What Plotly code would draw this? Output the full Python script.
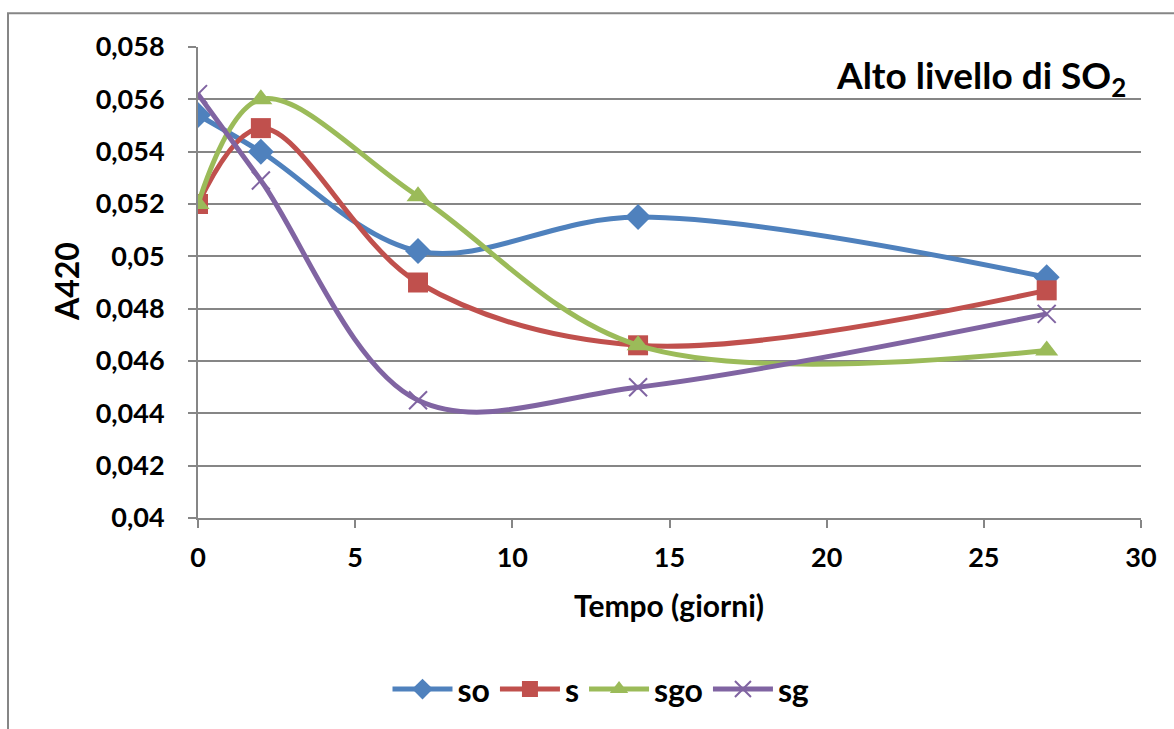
import plotly.graph_objects as go

# Data
giorni = [0, 2, 7, 14, 27]
so = [0.0554, 0.0540, 0.0502, 0.0515, 0.0492]
s = [0.0520, 0.0549, 0.0490, 0.0466, 0.0487]
sgo = [0.0520, 0.0560, 0.0523, 0.0466, 0.0464]
sg = [0.0562, 0.0529, 0.0445, 0.0450, 0.0478]

series_names = ["so", "s", "sgo", "sg"]
y_tickvals = [0.040, 0.042, 0.044, 0.046, 0.048, 0.050, 0.052, 0.054, 0.056, 0.058]
y_ticktext = ["0,04", "0,042", "0,044", "0,046", "0,048", "0,05", "0,052", "0,054", "0,056", "0,058"]
x_tickvals = [0, 5, 10, 15, 20, 25, 30]

colors = ["#4F81BD", "#C0504D", "#9BBB59", "#8064A2"]
symbols = ["diamond", "square", "triangle-up", "x-thin"]
sizes = [20, 20, 20, 18]

FONT = "Lato"
W, H = 1174, 729
L, R, T, B = 198, 33, 47, 209
pw, ph = W - L - R, H - T - B

def px_x(x):
    return (x - L) / pw

def px_y(y):
    return 1 - (y - T) / ph

fig = go.Figure()
for name, ys, c, sym, sz in zip(series_names, [so, s, sgo, sg], colors, symbols, sizes):
    marker = dict(symbol=sym, size=sz, color=c)
    if sym == "x-thin":
        marker["line"] = dict(color=c, width=2)
    fig.add_trace(go.Scatter(
        x=giorni, y=ys, name=name, mode="lines+markers",
        line=dict(color=c, width=5, shape="spline", smoothing=1.0),
        marker=marker,
    ))

fig.update_layout(
    width=W, height=H,
    margin=dict(l=L, r=R, t=T, b=B),
    paper_bgcolor="white", plot_bgcolor="white",
    font=dict(family=FONT, color="black", size=27),
    showlegend=True,
    legend=dict(
        orientation="h", x=px_x(601), y=px_y(692), xanchor="center", yanchor="middle",
        font=dict(family=FONT, size=32, color="black", weight="bold"),
        itemwidth=60, traceorder="normal",
    ),
    xaxis=dict(
        range=[0, 30], tickvals=x_tickvals, ticks="outside", ticklen=8, tickcolor="#868686",
        tickwidth=2, showgrid=False, showline=True, linecolor="#868686", linewidth=2,
        tickfont=dict(family=FONT, size=27, color="black", weight="bold"),
        ticklabelstandoff=7, zeroline=False,
    ),
    yaxis=dict(
        range=[0.04, 0.058], tickvals=y_tickvals, ticktext=y_ticktext, ticks="outside",
        ticklen=8, tickcolor="#868686", tickwidth=2,
        showgrid=True, gridcolor="#868686", gridwidth=2,
        showline=True, linecolor="#868686", linewidth=2, zeroline=False,
        tickfont=dict(family=FONT, size=27, color="black", weight="bold"),
        ticklabelstandoff=18,
    ),
    annotations=[
        dict(text="<b>Alto livello di SO<sub>2</sub></b>", xref="paper", yref="paper",
             x=px_x(1128), y=px_y(78), xanchor="right", yanchor="middle", showarrow=False,
             font=dict(family=FONT, size=37, color="black")),
        dict(text="<b>A420</b>", xref="paper", yref="paper", x=px_x(66), y=px_y(283),
             xanchor="center", yanchor="middle", textangle=-90, showarrow=False,
             font=dict(family=FONT, size=32, color="black")),
        dict(text="<b>Tempo (giorni)</b>", xref="paper", yref="paper", x=px_x(669), y=px_y(607),
             xanchor="center", yanchor="middle", showarrow=False,
             font=dict(family=FONT, size=30, color="black")),
    ],
    shapes=[
        dict(type="rect", xref="paper", yref="paper", x0=px_x(8), y0=px_y(760), x1=px_x(1200),
             y1=px_y(13), line=dict(color="#868686", width=2), fillcolor="rgba(0,0,0,0)", layer="below"),
    ],
)

fig.write_html("out.html")
